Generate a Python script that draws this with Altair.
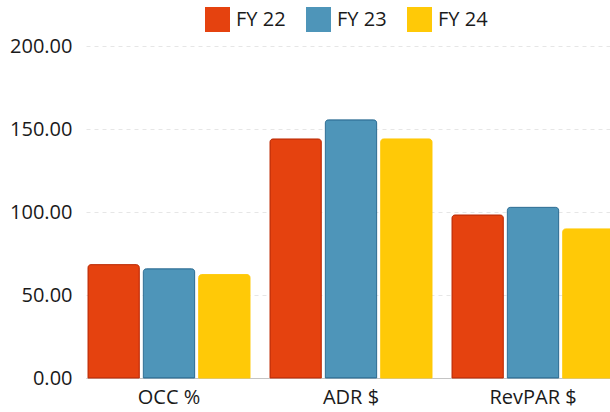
import altair as alt
import pandas as pd

# Hotel KPIs by fiscal year
metrics = ["OCC %", "ADR $", "RevPAR $"]
years = ["FY 22", "FY 23", "FY 24"]
fy22 = [68.3, 144.0, 98.2]
fy23 = [65.8, 155.5, 102.8]
fy24 = [62.3, 144.0, 89.8]

fills = ["#E5420F", "#4E95B9", "#FFC907"]
edges = ["#C0300A", "#2F6F95", "#FFC907"]

rows = []
for i, m in enumerate(metrics):
    for yr, vals in zip(years, [fy22, fy23, fy24]):
        rows.append({"metric": m, "year": yr, "value": vals[i]})
df = pd.DataFrame(rows)

FONT = "Open Sans"

x_enc = alt.X(
    "metric:N",
    sort=metrics,
    title=None,
    scale=alt.Scale(range=[0, 530], paddingInner=0.11, paddingOuter=0.011),
    axis=alt.Axis(
        labelAngle=0, ticks=False, domain=True, domainColor="#c4c4c4",
        domainWidth=1, labelFontSize=20, labelColor="#1a1a1a",
        labelFont=FONT, labelPadding=9, grid=False,
    ),
)
xoff_enc = alt.XOffset(
    "year:N", sort=years,
    scale=alt.Scale(paddingInner=0.073, paddingOuter=0),
)
y_enc = alt.Y(
    "value:Q",
    title=None,
    scale=alt.Scale(domain=[0, 200], nice=False),
    axis=alt.Axis(
        values=[0, 50, 100, 150, 200], format=".2f", domain=False,
        ticks=False, labelFontSize=20, labelColor="#1a1a1a",
        labelFont=FONT, labelPadding=14, gridColor="#e6e6e6",
        gridDash=[4, 4], gridWidth=1,
    ),
)

base = alt.Chart(df)

# filled bars carrying the legend
filled = base.mark_bar(
    cornerRadiusTopLeft=3, cornerRadiusTopRight=3, filled=True,
    fillOpacity=1, opacity=1,
).encode(
    x=x_enc, xOffset=xoff_enc, y=y_enc,
    fill=alt.Fill(
        "year:N",
        sort=years,
        scale=alt.Scale(domain=years, range=fills),
        legend=alt.Legend(
            title=None, orient="none", direction="horizontal",
            legendX=119, legendY=-39, symbolType="square", symbolSize=625,
            symbolStrokeWidth=0, labelFontSize=20, labelFont=FONT,
            labelColor="#1a1a1a", labelOffset=6, columnPadding=20,
        ),
    ),
    stroke=alt.Stroke(
        "year:N", sort=years,
        scale=alt.Scale(domain=years, range=edges), legend=None,
    ),
)

chart = filled.properties(
    width=524,
    height=332,
    padding={"left": 86, "top": 46, "right": 0, "bottom": 34},
    autosize=alt.AutoSizeParams(type="none"),
    background="white",
).configure_view(strokeWidth=0)

chart.save("out.html", embed_options={"renderer": "svg", "actions": False})
